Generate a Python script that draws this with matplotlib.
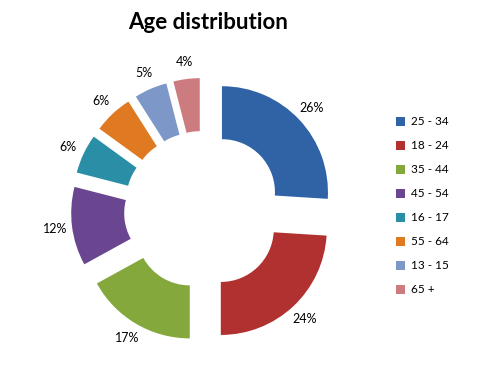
import matplotlib
matplotlib.use("Agg")
import matplotlib.pyplot as plt

categories = ["25 - 34", "18 - 24", "35 - 44", "45 - 54", "16 - 17", "55 - 64", "13 - 15", "65 +"]
shares = [26, 24, 17, 12, 6, 6, 5, 4]
colors = ["#3063A5", "#B0312F", "#84A83B", "#6A4690", "#2A8EA6", "#E07A22", "#7C97C8", "#CC7B7E"]
title = "Age distribution"

plt.rcParams['font.family'] = ['Lato', 'DejaVu Sans']

fig = plt.figure(figsize=(5, 3.7), dpi=100)
ax = fig.add_axes([0, 0, 1, 1])

wedges, texts, autotexts = ax.pie(
    shares, colors=colors, startangle=90, counterclock=False,
    explode=[26] * len(shares), center=(203, 160), radius=106,
    wedgeprops=dict(width=53, linewidth=0),
    autopct='%1.0f%%', pctdistance=1.16,
    textprops=dict(fontsize=9, color='black'), frame=True)
ax.set_xlim(0, 500)
ax.set_ylim(0, 370)
ax.set_aspect('equal')
ax.axis('off')

fig.text(0.416, 0.94, title, ha='center', va='center', fontsize=16, fontweight='bold')

ax.legend(wedges, categories, loc='upper left', bbox_to_anchor=(0.77, 0.714),
          bbox_transform=fig.transFigure, frameon=False, fontsize=8.5,
          handlelength=0.8, handleheight=0.8, labelspacing=1.1, handletextpad=0.5)

fig.savefig("out.png", dpi=100)
